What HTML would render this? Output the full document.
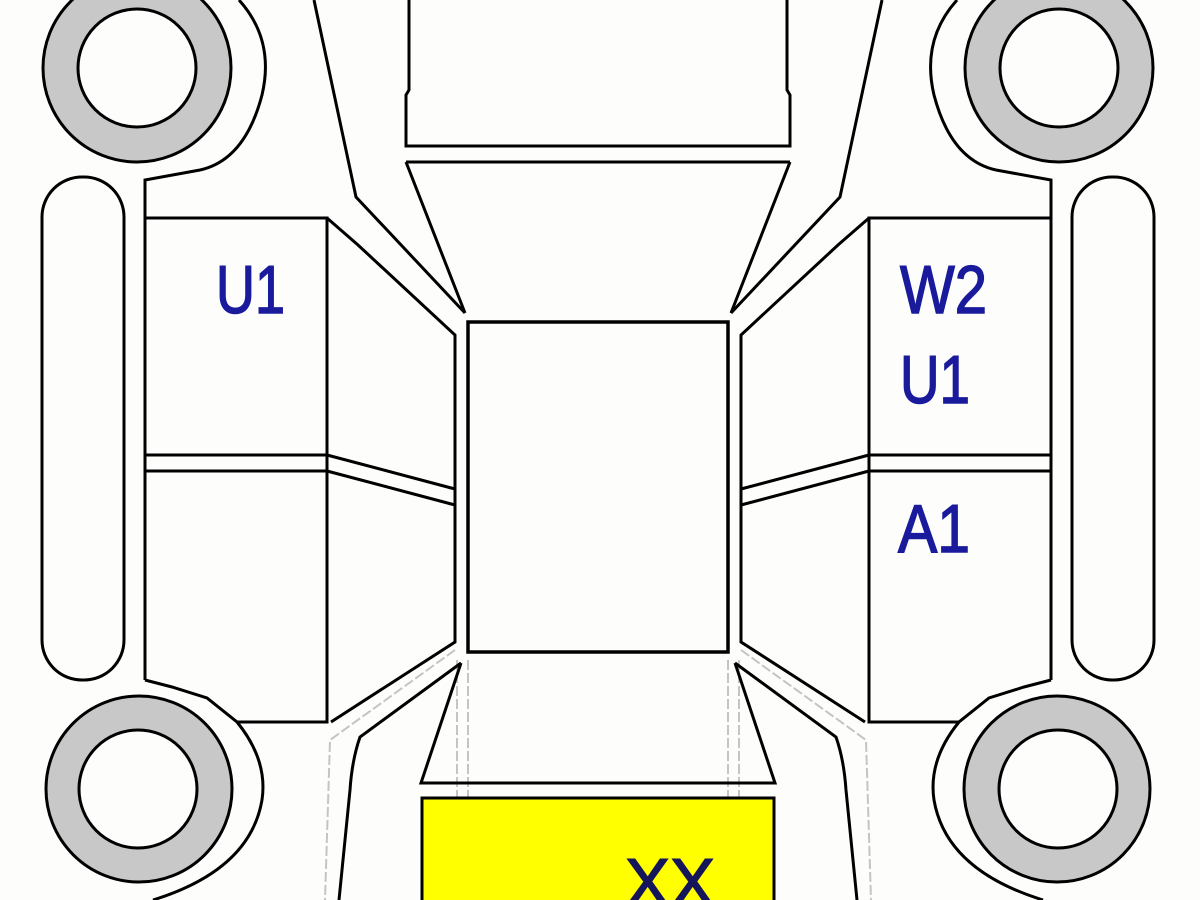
<!DOCTYPE html>
<html><head><style>html,body{margin:0;padding:0;background:#fdfefc;}svg{display:block}</style></head>
<body>
<svg width="1200" height="900" viewBox="0 0 1200 900" xmlns="http://www.w3.org/2000/svg">
<defs>
<g id="half" fill="none" stroke="#000" stroke-width="3">
  <g stroke="#c4c4c4" stroke-width="2" stroke-dasharray="10 3">
    <path d="M455 650 L330 740 L325 900"/>
    <path d="M457 660 L457 900"/>
    <path d="M468 660 L468 900"/>
  </g>
  <circle cx="137" cy="68" r="94" fill="#c8c8c8"/>
  <circle cx="137" cy="68" r="59" fill="#fdfefc"/>
  <path d="M239 0 Q275 40 262 95 Q245 160 200 170 L145 180 L145 680"/>
  <circle cx="139" cy="789" r="93" fill="#c8c8c8"/>
  <circle cx="138" cy="789" r="59" fill="#fdfefc"/>
  <path d="M145 680 L172 687 L207 698 L237 722 Q268 760 262 800 Q250 870 153 900"/>
  <rect x="42" y="177" width="82" height="503" rx="40" ry="40"/>
  <path d="M145 218 L327 218 L327 722 L237 722"/>
  <path d="M145 455 L327 455 M145 471 L327 471"/>
  <path d="M327 455 L455 489 M327 471 L455 505"/>
  <path d="M314 0 L356 197 L465 313"/>
  <path d="M327 218 L358 245 L455 335 L455 642 L331 722"/>
  <path d="M461 663 L360 737 Q352 760 350 790 L339 900"/>
  <path d="M409 0 L409 90 L406 95 L406 146 L598 146"/>
  <path d="M406 162 L598 162 M406 162 L465 313"/>
  <path d="M461 663 L421 783 L598 783"/>
</g>
</defs>
<use href="#half"/>
<use href="#half" transform="translate(1196,0) scale(-1,1)"/>
<rect x="468" y="322" width="260" height="330" fill="none" stroke="#000" stroke-width="3.5"/>
<rect x="422" y="798" width="352" height="110" fill="#ffff00" stroke="#000" stroke-width="3"/>
<g font-family="Liberation Sans, sans-serif" font-size="68" fill="#1a1a9c" stroke="#1a1a9c" stroke-width="1.5">
  <text x="216" y="313" textLength="69" lengthAdjust="spacingAndGlyphs">U1</text>
  <text x="900" y="313" textLength="87" lengthAdjust="spacingAndGlyphs">W2</text>
  <text x="900" y="403" textLength="70" lengthAdjust="spacingAndGlyphs">U1</text>
  <text x="898" y="552" textLength="72" lengthAdjust="spacingAndGlyphs">A1</text>
  <text x="625" y="906" textLength="90" lengthAdjust="spacingAndGlyphs" fill="#15155a" stroke="#15155a">XX</text>
</g>
</svg>
</body></html>
